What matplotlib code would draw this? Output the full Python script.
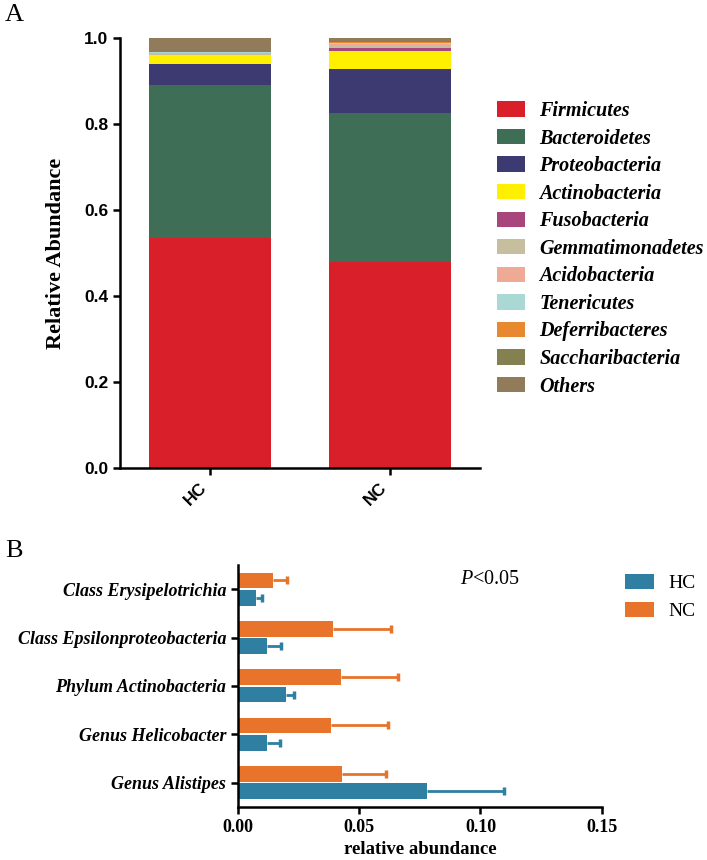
import numpy as np
import matplotlib
matplotlib.use('Agg')
import matplotlib.pyplot as plt

# panel A data: relative abundance of phyla per group
phyla = ['Firmicutes', 'Bacteroidetes', 'Proteobacteria', 'Actinobacteria',
         'Fusobacteria', 'Gemmatimonadetes', 'Acidobacteria', 'Tenericutes',
         'Deferribacteres', 'Saccharibacteria', 'Others']
groups = ['HC', 'NC']
hc_abund = [0.534, 0.357, 0.049, 0.020, 0.001, 0.004, 0.001, 0.002, 0.0005, 0.0005, 0.031]
nc_abund = [0.479, 0.347, 0.101, 0.043, 0.006, 0.006, 0.003, 0.004, 0.002, 0.001, 0.008]
phyla_colors = ['#D81F2A', '#3E6E55', '#3D3A72', '#FFF000', '#A8457A', '#C6BE9D',
                '#EFAA96', '#AAD9D5', '#E8892F', '#858052', '#927B5B']

# panel B data: differential taxa (bottom to top)
taxa = ['Genus Alistipes', 'Genus Helicobacter', 'Phylum Actinobacteria',
        'Class Epsilonproteobacteria', 'Class Erysipelotrichia']
hc_mean = [0.0778, 0.0118, 0.0198, 0.0121, 0.0073]
hc_err = [0.0317, 0.0055, 0.0033, 0.0056, 0.0025]
nc_mean = [0.0428, 0.0382, 0.0424, 0.0391, 0.0143]
nc_err = [0.0182, 0.0238, 0.0237, 0.0239, 0.0060]

serif = 'Liberation Serif'
sans = 'Liberation Sans'
plt.rcParams['mathtext.fontset'] = 'custom'
plt.rcParams['mathtext.rm'] = 'Liberation Serif'
plt.rcParams['mathtext.it'] = 'Liberation Serif:italic'
W, H = 707, 860

fig = plt.figure(figsize=(W / 100, H / 100), dpi=100)

# ---- panel A ----
axA = fig.add_axes([120 / W, 1 - 468 / H, 360 / W, 430 / H])
x = np.arange(len(groups))
bottom = np.zeros(len(groups))
handles = []
for i, name in enumerate(phyla):
    vals = np.array([hc_abund[i], nc_abund[i]])
    b = axA.bar(x, vals, width=0.68, bottom=bottom, color=phyla_colors[i],
                linewidth=0, label=name)
    handles.append(b)
    bottom += vals

axA.set_xlim(-0.5, 1.5)
axA.set_ylim(0, 1.0)
axA.set_yticks([0.0, 0.2, 0.4, 0.6, 0.8, 1.0])
axA.set_yticklabels(['0.0', '0.2', '0.4', '0.6', '0.8', '1.0'],
                    fontfamily=sans, fontweight='bold', fontsize=12.5)
axA.set_xticks(x)
axA.set_xticklabels(groups, rotation=45, ha='right', rotation_mode='default',
                    fontfamily=sans, fontweight='bold', fontsize=12.5)
for s in ['top', 'right']:
    axA.spines[s].set_visible(False)
for s in ['left', 'bottom']:
    axA.spines[s].set_linewidth(1.8)
axA.tick_params(width=1.8, length=5, direction='out')
axA.set_ylabel('Relative Abundance', fontfamily=serif, fontweight='bold',
               fontsize=16, labelpad=13)

fig.legend(handles=handles, labels=phyla, loc='upper left',
           bbox_to_anchor=(497 / W, 1 - 101 / H), frameon=False,
           prop={'family': serif, 'weight': 'bold', 'style': 'italic', 'size': 14.5},
           handlelength=1.4, handleheight=0.8, handletextpad=0.7,
           labelspacing=0.375, borderpad=0, borderaxespad=0)

fig.text(5 / W, 1 - 15 / H, 'A', fontfamily=serif, fontsize=19, va='center')

# ---- panel B ----
axB = fig.add_axes([238 / W, 1 - 806.7 / H, 363.7 / W, 241.7 / H])
y = np.arange(len(taxa))
h = 0.32
off = 0.18
c_hc = '#2E7FA1'
c_nc = '#E8742B'
bars_hc = axB.barh(y - off, hc_mean, height=h, color=c_hc, label='HC',
                   xerr=[np.zeros(len(taxa)), hc_err], ecolor=c_hc,
                   error_kw={'elinewidth': 2, 'capsize': 3, 'capthick': 2.5})
bars_nc = axB.barh(y + off, nc_mean, height=h, color=c_nc, label='NC',
                   xerr=[np.zeros(len(taxa)), nc_err], ecolor=c_nc,
                   error_kw={'elinewidth': 2, 'capsize': 3, 'capthick': 2.5})
# one-sided error bars: hide the cap at the bar end
for bc in (bars_hc, bars_nc):
    caps = bc.errorbar.lines[1]
    if len(caps) > 1:
        caps[0].set_visible(False)

axB.set_xlim(0, 0.15)
axB.set_ylim(-0.5, len(taxa) - 0.5)
axB.set_yticks(y)
axB.set_yticklabels(taxa, fontfamily=serif, fontweight='bold', style='italic', fontsize=13)
axB.set_xticks([0.0, 0.05, 0.10, 0.15])
axB.set_xticklabels(['0.00', '0.05', '0.10', '0.15'], fontfamily=serif,
                    fontweight='bold', fontsize=13)
for s in ['top', 'right']:
    axB.spines[s].set_visible(False)
for s in ['left', 'bottom']:
    axB.spines[s].set_linewidth(1.8)
axB.tick_params(width=1.8, length=5, direction='out')
axB.set_xlabel('relative abundance', fontfamily=serif, fontweight='bold',
               fontsize=13.5, labelpad=4)

axB.text(0.0915, 4.2, '$\\mathit{P}$<0.05', fontfamily=serif, fontsize=14.5, va='center')

hb, lb = axB.get_legend_handles_labels()
fig.legend(hb, lb, loc='upper left', bbox_to_anchor=(625 / W, 1 - 574 / H),
           frameon=False, prop={'family': serif, 'size': 14},
           handlelength=1.5, handleheight=0.82, handletextpad=0.72,
           labelspacing=0.5, borderpad=0, borderaxespad=0)

fig.text(5 / W, 1 - 551 / H, 'B', fontfamily=serif, fontsize=19, va='center')

plt.savefig('out.png', dpi=100)
